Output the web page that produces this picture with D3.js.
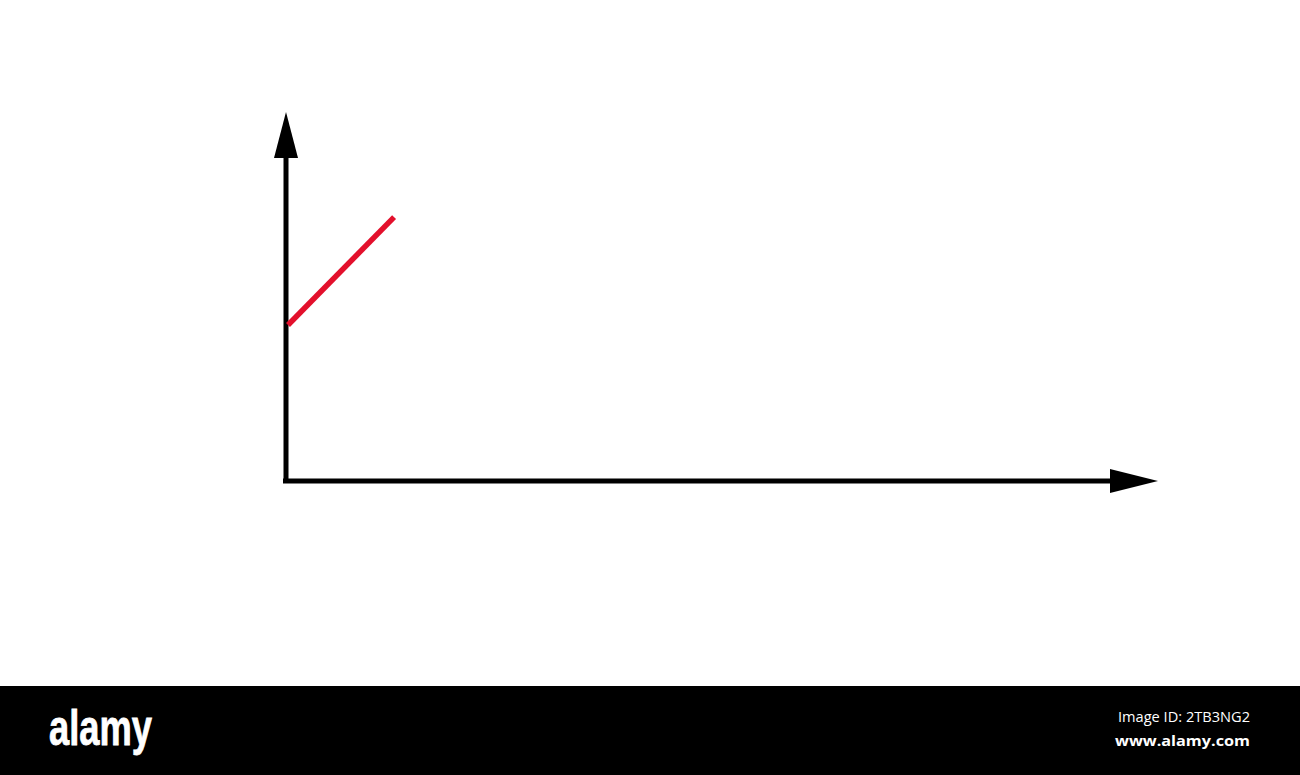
<!DOCTYPE html>
<html>
<head>
<meta charset="utf-8">
<script src="https://cdn.jsdelivr.net/npm/d3@7"></script>
<style>
  body { margin: 0; background: #fff; }
  svg { display: block; }
</style>
</head>
<body>
<div id="svg-container"></div>
<script>
// values
const lineX = [0, 1.03];
const lineY = [4.83, 8.17];
const xDomain = [0, 8];
const yDomain = [0, 10];
const imageId = "Image ID: 2TB3NG2";
const siteUrl = "www.alamy.com";
const brand = "alamy";

const svgWidth = 1300;
const svgHeight = 775;

const svg = d3
  .select("#svg-container")
  .append("svg")
  .attr("width", svgWidth)
  .attr("height", svgHeight);

svg.append("rect").attr("width", svgWidth).attr("height", svgHeight).attr("fill", "#fff");

const xScaling = d3.scaleLinear().domain(xDomain).range([286, 1110]);
const yScaling = d3.scaleLinear().domain(yDomain).range([481, 158]);

// axes drawn with arrowheads
const defs = svg.append("defs");
defs
  .append("marker")
  .attr("id", "arrow")
  .attr("viewBox", "0 0 48 24")
  .attr("refX", 0)
  .attr("refY", 12)
  .attr("markerWidth", 48)
  .attr("markerHeight", 24)
  .attr("markerUnits", "userSpaceOnUse")
  .attr("orient", "auto")
  .append("path")
  .attr("d", "M0,0 L48,12 L0,24 Z")
  .attr("fill", "#000");

svg
  .append("line")
  .attr("x1", xScaling(0) - 3)
  .attr("y1", yScaling(0))
  .attr("x2", xScaling(xDomain[1]))
  .attr("y2", yScaling(0))
  .attr("stroke", "#000")
  .attr("stroke-width", 5)
  .attr("marker-end", "url(#arrow)");

defs
  .append("marker")
  .attr("id", "arrowUp")
  .attr("viewBox", "0 0 46 24")
  .attr("refX", 0)
  .attr("refY", 12)
  .attr("markerWidth", 46)
  .attr("markerHeight", 24)
  .attr("markerUnits", "userSpaceOnUse")
  .attr("orient", "auto")
  .append("path")
  .attr("d", "M0,0 L46,12 L0,24 Z")
  .attr("fill", "#000");

svg
  .append("line")
  .attr("x1", xScaling(0))
  .attr("y1", yScaling(0) + 2)
  .attr("x2", xScaling(0))
  .attr("y2", yScaling(yDomain[1]))
  .attr("stroke", "#000")
  .attr("stroke-width", 5)
  .attr("marker-end", "url(#arrowUp)");

// red line
const lineData = lineX.map((x, i) => [x, lineY[i]]);
svg
  .append("path")
  .datum(lineData)
  .attr("fill", "none")
  .attr("stroke", "#e3102c")
  .attr("stroke-width", 5.5)
  .attr("d", d3.line().x((d) => xScaling(d[0]) + 2).y((d) => yScaling(d[1])));

// watermark bar
svg.append("rect").attr("x", 0).attr("y", 686).attr("width", svgWidth).attr("height", 89).attr("fill", "#000");

svg
  .append("text")
  .attr("x", 49)
  .attr("y", 745)
  .attr("fill", "#fff")
  .attr("stroke", "#fff")
  .attr("stroke-width", 0.8)
  .attr("font-family", "'Liberation Sans Narrow', 'Liberation Sans', sans-serif")
  .attr("font-weight", "bold")
  .attr("font-size", 50)
  .attr("textLength", 103)
  .attr("lengthAdjust", "spacingAndGlyphs")
  .text(brand);

svg
  .append("text")
  .attr("x", 1250)
  .attr("y", 722)
  .attr("text-anchor", "end")
  .attr("fill", "#fff")
  .attr("font-family", "'Open Sans', sans-serif")
  .attr("font-size", 14.5)
  .attr("textLength", 132)
  .attr("lengthAdjust", "spacingAndGlyphs")
  .text(imageId);

svg
  .append("text")
  .attr("x", 1250)
  .attr("y", 746)
  .attr("text-anchor", "end")
  .attr("fill", "#fff")
  .attr("font-family", "'Open Sans', sans-serif")
  .attr("font-weight", "bold")
  .attr("font-size", 15)
  .attr("textLength", 135)
  .attr("lengthAdjust", "spacingAndGlyphs")
  .text(siteUrl);
</script>
</body>
</html>
